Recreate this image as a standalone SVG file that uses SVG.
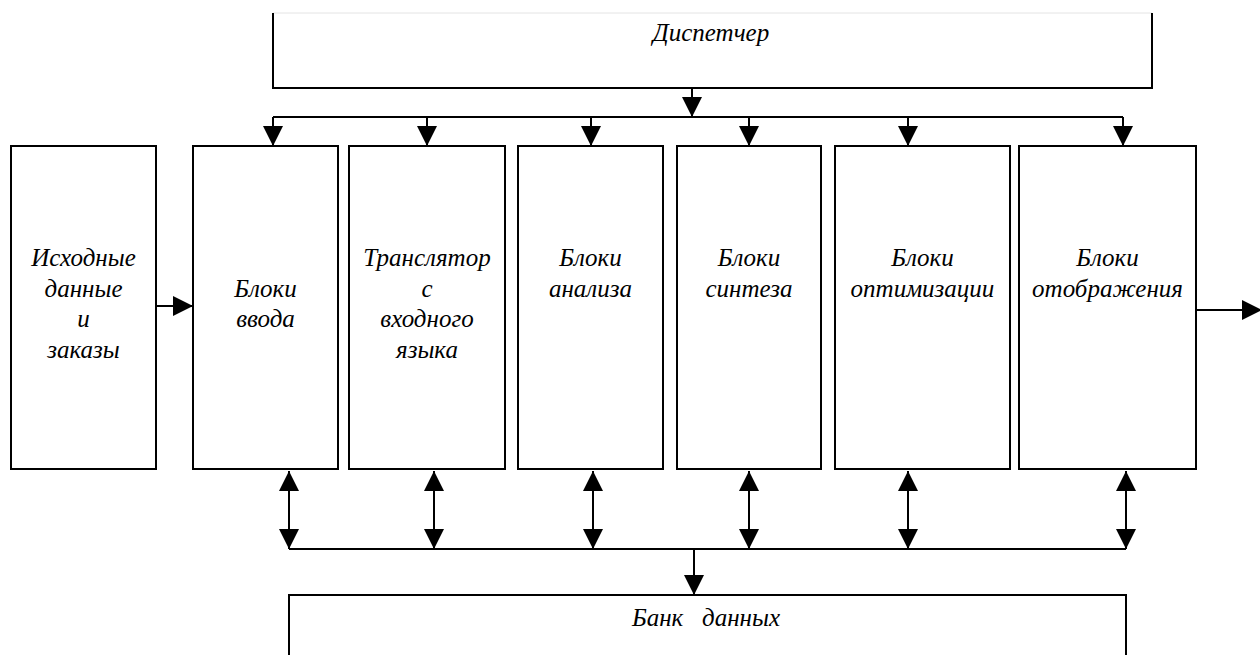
<svg xmlns="http://www.w3.org/2000/svg" width="1260" height="655" viewBox="0 0 1260 655">
<style>
.box{fill:#fff;stroke:#000;stroke-width:2}
.ln{fill:none;stroke:#000;stroke-width:2}
.t{font-family:"Liberation Serif","Times New Roman",serif;font-style:italic;font-size:25px;fill:#000;text-anchor:middle}
</style>
<defs>
<marker id="ah" viewBox="0 0 20 20" refX="20" refY="10" markerWidth="20" markerHeight="20" markerUnits="userSpaceOnUse" orient="auto-start-reverse">
<path d="M0,0 L20,10 L0,20 Z" fill="#000"/>
</marker>
</defs>
<rect width="1260" height="655" fill="#fff"/>
<g id="dispatcher">
<line x1="273" y1="13" x2="1152" y2="13" stroke="#e4e4e4" stroke-width="1"/>
<path class="ln" d="M273,13 V88 H1152 V13"/>
<text class="t" x="711" y="41">Диспетчер</text>
</g>
<g id="source">
<rect class="box" x="11" y="146" width="145" height="323"/>
<text class="t" x="83.5" y="266">Исходные</text>
<text class="t" x="83.5" y="297">данные</text>
<text class="t" x="83.5" y="327">и</text>
<text class="t" x="83.5" y="358">заказы</text>
</g>
<g id="input">
<rect class="box" x="193" y="146" width="145" height="323"/>
<text class="t" x="265.5" y="297">Блоки</text>
<text class="t" x="265.5" y="327">ввода</text>
</g>
<g id="translator">
<rect class="box" x="349" y="146" width="156" height="323"/>
<text class="t" x="427" y="266">Транслятор</text>
<text class="t" x="427" y="297">с</text>
<text class="t" x="427" y="327">входного</text>
<text class="t" x="427" y="358">языка</text>
</g>
<g id="analysis">
<rect class="box" x="518" y="146" width="145" height="323"/>
<text class="t" x="590.5" y="266">Блоки</text>
<text class="t" x="590.5" y="297">анализа</text>
</g>
<g id="synthesis">
<rect class="box" x="677" y="146" width="144" height="323"/>
<text class="t" x="749" y="266">Блоки</text>
<text class="t" x="749" y="297">синтеза</text>
</g>
<g id="optimization">
<rect class="box" x="835" y="146" width="175" height="323"/>
<text class="t" x="922.5" y="266">Блоки</text>
<text class="t" x="922.5" y="297">оптимизации</text>
</g>
<g id="display">
<rect class="box" x="1019" y="146" width="177" height="323"/>
<text class="t" x="1107.5" y="266">Блоки</text>
<text class="t" x="1107.5" y="297">отображения</text>
</g>
<g id="databank">
<path class="ln" d="M289,655 V595 H1126 V655"/>
<text class="t" x="706" y="626" xml:space="preserve">Банк   данных</text>
</g>
<g id="connectors" class="ln">
<line x1="692" y1="88" x2="692" y2="117" marker-end="url(#ah)"/>
<line x1="273" y1="117" x2="1123" y2="117"/>
<line x1="273" y1="117" x2="273" y2="146" marker-end="url(#ah)"/>
<line x1="427" y1="117" x2="427" y2="146" marker-end="url(#ah)"/>
<line x1="591" y1="117" x2="591" y2="146" marker-end="url(#ah)"/>
<line x1="749" y1="117" x2="749" y2="146" marker-end="url(#ah)"/>
<line x1="908" y1="117" x2="908" y2="146" marker-end="url(#ah)"/>
<line x1="1123" y1="117" x2="1123" y2="146" marker-end="url(#ah)"/>
<line x1="156" y1="306" x2="193" y2="306" marker-end="url(#ah)"/>
<line x1="1196" y1="310" x2="1262" y2="310" marker-end="url(#ah)"/>
<line x1="289" y1="471" x2="289" y2="549" marker-start="url(#ah)" marker-end="url(#ah)"/>
<line x1="434" y1="471" x2="434" y2="549" marker-start="url(#ah)" marker-end="url(#ah)"/>
<line x1="593" y1="471" x2="593" y2="549" marker-start="url(#ah)" marker-end="url(#ah)"/>
<line x1="749" y1="471" x2="749" y2="549" marker-start="url(#ah)" marker-end="url(#ah)"/>
<line x1="908" y1="471" x2="908" y2="549" marker-start="url(#ah)" marker-end="url(#ah)"/>
<line x1="1126" y1="471" x2="1126" y2="549" marker-start="url(#ah)" marker-end="url(#ah)"/>
<line x1="289" y1="549" x2="1126" y2="549"/>
<line x1="694" y1="549" x2="694" y2="595" marker-end="url(#ah)"/>
</g>
</svg>
